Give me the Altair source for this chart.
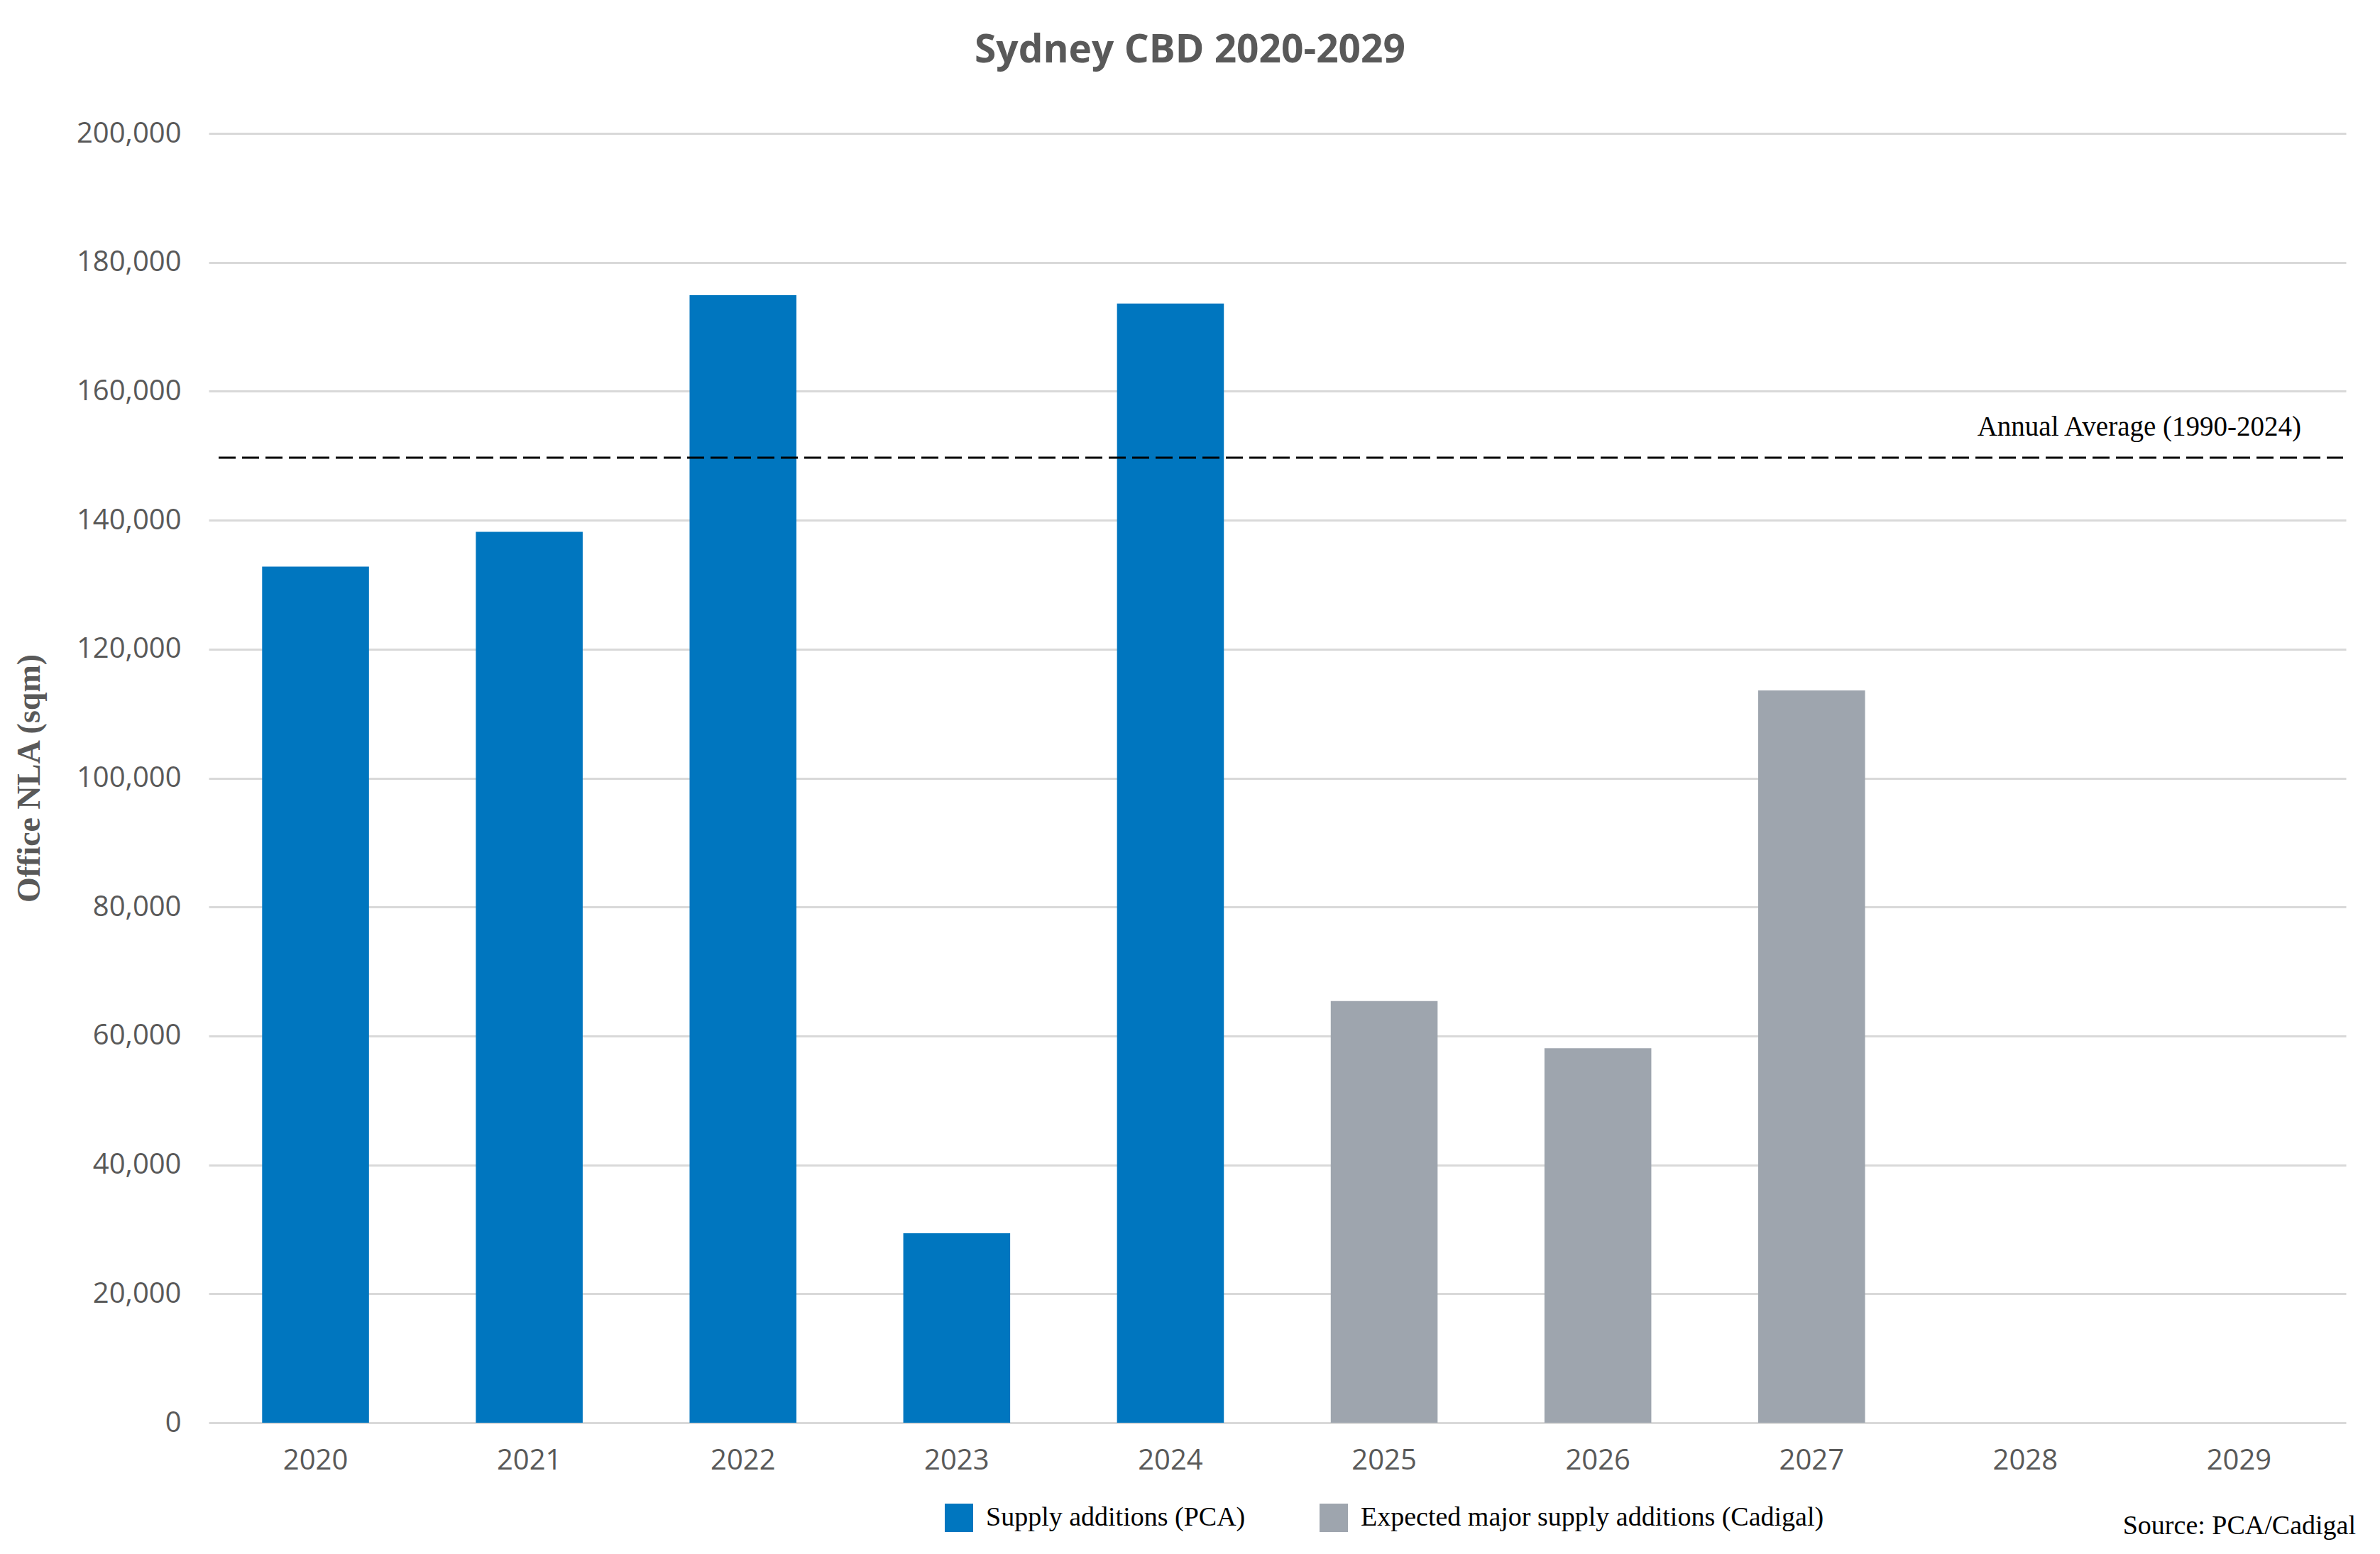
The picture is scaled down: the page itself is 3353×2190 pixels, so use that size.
import altair as alt
import pandas as pd

# ---- data ----
years = ["2020", "2021", "2022", "2023", "2024", "2025", "2026", "2027", "2028", "2029"]
bar_years = ["2020", "2021", "2022", "2023", "2024", "2025", "2026", "2027"]
bar_values = [132800, 138200, 174900, 29400, 173600, 65400, 58100, 113600]
series_names = ["Supply additions (PCA)", "Expected major supply additions (Cadigal)"]
bar_series = [series_names[0]] * 5 + [series_names[1]] * 3
series_colors = ["#0076BF", "#9EA5AE"]
average_value = [149700]
average_label = ["Annual Average (1990-2024)"]
source_label = ["Source: PCA/Cadigal"]
y_ticks = [0, 20000, 40000, 60000, 80000, 100000, 120000, 140000, 160000, 180000, 200000]
chart_title = "Sydney CBD 2020-2029"
y_title = "Office NLA (sqm)"

W, H = 3011, 1817
GREY_TXT = "#595959"

bars_df = pd.DataFrame({"year": bar_years, "value": bar_values, "series": bar_series})
avg_df = pd.DataFrame({"value": average_value, "label": average_label})
src_df = pd.DataFrame({"t": source_label})

bars = alt.Chart(bars_df).mark_bar().encode(
    x=alt.X(
        "year:N",
        sort=years,
        scale=alt.Scale(domain=years, paddingInner=0.5, paddingOuter=0.25),
        axis=alt.Axis(
            title=None, labelAngle=0, labelFont="Open Sans", labelFontSize=40,
            labelColor=GREY_TXT, labelPadding=33, ticks=False, tickSize=0,
            domain=False, grid=False,
        ),
    ),
    y=alt.Y(
        "value:Q",
        scale=alt.Scale(domain=[0, 200000], nice=False),
        axis=alt.Axis(
            title=y_title, values=y_ticks, format=",d",
            labelFont="Open Sans", labelFontSize=40, labelColor=GREY_TXT,
            labelPadding=39, ticks=False, tickSize=0, domain=False,
            grid=True, gridColor="#D9D9D9", gridWidth=3,
            titleFont="Liberation Serif", titleFontWeight="bold", titleFontSize=46,
            titleColor=GREY_TXT, titleAngle=270, titleX=-253, titleY=H / 2,
            titleAlign="center", titleBaseline="middle",
        ),
    ),
    color=alt.Color(
        "series:N",
        scale=alt.Scale(domain=series_names, range=series_colors),
        legend=alt.Legend(
            title=None, orient="none", legendX=1037, legendY=1931,
            direction="horizontal", symbolType="square", symbolSize=1600,
            symbolStrokeWidth=0, symbolOpacity=1, labelFont="Liberation Serif",
            labelFontSize=38, labelColor="black", labelOffset=18,
            columnPadding=104, padding=0, labelLimit=0,
        ),
    ),
)

rule = alt.Chart(avg_df).mark_rule(
    color="black", strokeWidth=3, strokeDash=[24, 9]
).encode(y="value:Q", x=alt.value(14), x2=alt.value(W - 4))

avg_text = alt.Chart(avg_df).mark_text(
    font="Liberation Serif", fontSize=39, color="black",
    align="right", baseline="alphabetic", dy=-31,
).encode(y="value:Q", x=alt.value(2948), text="label:N")

src = alt.Chart(src_df).mark_text(
    font="Liberation Serif", fontSize=38, color="black",
    align="right", baseline="alphabetic",
).encode(x=alt.value(3025), y=alt.value(1974), text="t:N")

chart = alt.layer(bars, rule, avg_text, src).properties(
    width=W,
    height=H,
    background="white",
    title=alt.Title(
        chart_title, font="Open Sans", fontSize=55, fontWeight="bold",
        color=GREY_TXT, anchor="middle", dx=-123, offset=25, baseline="alphabetic",
    ),
    autosize=alt.AutoSizeParams(type="none"),
    padding={"left": 286, "top": 180, "right": 40, "bottom": 177},
).configure_view(stroke=None)

chart.save("out.html", embed_options={"renderer": "svg", "actions": False})
